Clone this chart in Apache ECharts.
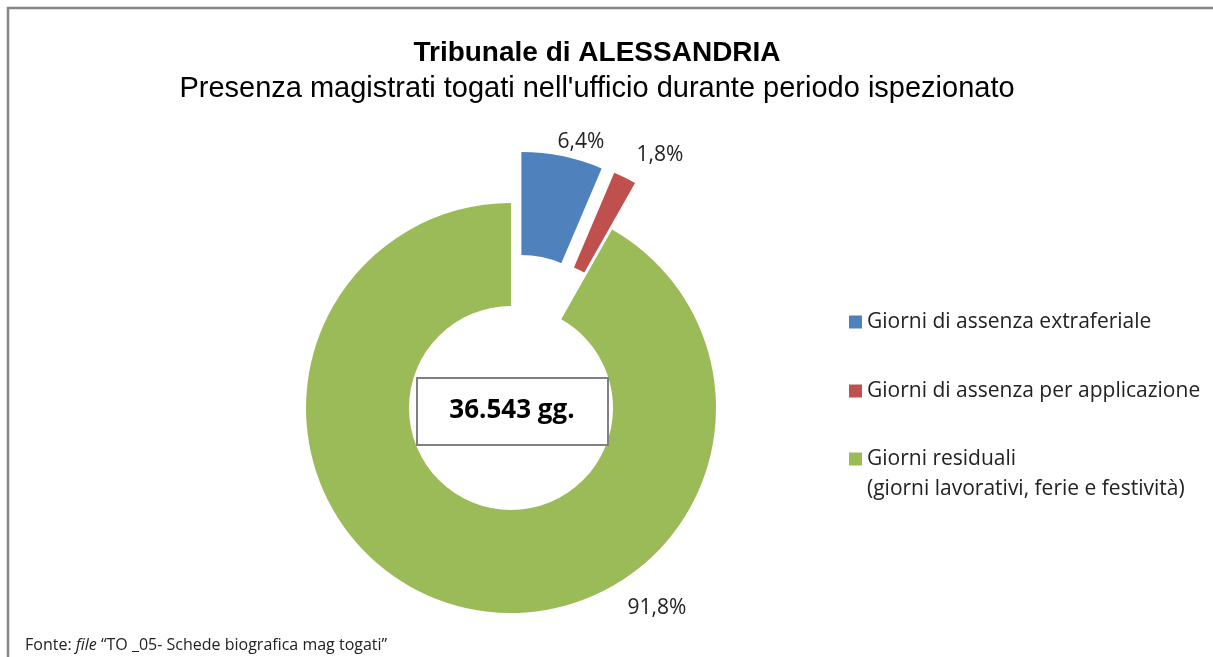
<!DOCTYPE html>
<html>
<head>
<meta charset="utf-8">
<script src="https://cdn.jsdelivr.net/npm/echarts@6/dist/echarts.min.js"></script>
<style>
  html, body { margin: 0; padding: 0; background: #fff; }
  #chart { width: 1213px; height: 657px; }
</style>
</head>
<body>
<div id="chart"></div>
<script>
// dati (giorni)
var categorie = [
  'Giorni di assenza extraferiale',
  'Giorni di assenza per applicazione',
  'Giorni residuali\n(giorni lavorativi, ferie e festività)'
];
var giorni = [2339, 658, 33546];
var esplosi = [true, true, false];
var totale = '36.543 gg.';

var colori = ['#4F81BD', '#C0504D', '#9BBB59'];
// centro del testo percentuale
var posEtichette = [[581, 142], [660, 155], [657, 608]];
var topLegenda = [307, 376, 414];
var distacco = 52;

var font = '"Open Sans", Lato, sans-serif';

// spostamento dovuto al distacco della fetta (da sottrarre all'etichetta)
const spostamento = (i) => {
  if (!esplosi[i]) return [0, 0];
  const tot = giorni.reduce((a, b) => a + b, 0);
  const prima = giorni.slice(0, i).reduce((a, b) => a + b, 0);
  const ang = 2 * Math.PI * (prima + giorni[i] / 2) / tot;
  return [distacco * Math.sin(ang), -distacco * Math.cos(ang)];
};

const getOption = () => {
  const legendaBase = (i) => ({
    orient: 'vertical',
    left: 849,
    top: topLegenda[i],
    padding: 0,
    itemWidth: 13,
    itemHeight: 13,
    icon: 'rect',
    data: [categorie[i]],
    selectedMode: false,
    // riga vuota in testa: la prima riga vera resta allineata al quadratino
    formatter: (name) => (i === 2 ? '\n' + name : name),
    textStyle: {
      fontFamily: font,
      fontSize: 21,
      color: '#222',
      lineHeight: 30
    }
  });

  return {
    color: colori,
    animation: false,
    title: [
      {
        text: 'Tribunale di ALESSANDRIA',
        left: 592,
        top: 34,
        textAlign: 'center',
        textStyle: { fontFamily: '"Liberation Sans", Arial', fontSize: 28, fontWeight: 'bold', color: '#000' }
      },
      {
        text: "Presenza magistrati togati nell'ufficio durante periodo ispezionato",
        left: 592,
        top: 69,
        textAlign: 'center',
        textStyle: { fontFamily: '"Liberation Sans", Arial', fontSize: 29, fontWeight: 'normal', color: '#000' }
      }
    ],
    legend: [legendaBase(0), legendaBase(1), legendaBase(2)],
    graphic: [
      {
        type: 'rect',
        shape: { x: 8, y: 8, width: 1260, height: 700 },
        style: { fill: 'none', stroke: '#868686', lineWidth: 2.5 },
        silent: true
      },
      {
        type: 'rect',
        shape: { x: 417, y: 378, width: 191, height: 67 },
        style: { fill: '#fff', stroke: '#808080', lineWidth: 2 },
        z: 10
      },
      {
        type: 'text',
        x: 512,
        y: 411,
        z: 11,
        style: {
          text: totale,
          align: 'center',
          verticalAlign: 'middle',
          fontFamily: font,
          fontSize: 26,
          fontWeight: 'bold',
          fill: '#000'
        }
      },
      {
        type: 'text',
        x: 25,
        y: 645,
        style: {
          text: '{n|Fonte: }{i|file}{n| “TO _05- Schede biografica mag togati”}',
          verticalAlign: 'middle',
          rich: {
            n: { fontFamily: font, fontSize: 16, fill: '#222' },
            i: { fontFamily: font, fontSize: 16, fontStyle: 'italic', fill: '#222' }
          }
        }
      }
    ],
    series: [
      {
        type: 'pie',
        center: [511, 408],
        radius: [102, 205],
        startAngle: 90,
        clockwise: true,
        selectedMode: 'multiple',
        selectedOffset: distacco,
        percentPrecision: 1,
        emphasis: { disabled: true },
        label: {
          show: true,
          position: 'outside',
          fontFamily: font,
          fontSize: 21,
          color: '#222',
          formatter: (p) => p.percent.toFixed(1).replace('.', ',') + '%'
        },
        labelLine: { show: false },
        labelLayout: (p) => {
          const r = p.labelRect;
          const s = spostamento(p.dataIndex);
          return {
            dx: posEtichette[p.dataIndex][0] - (r.x + r.width / 2) - s[0],
            dy: posEtichette[p.dataIndex][1] - (r.y + r.height / 2) - s[1]
          };
        },
        data: categorie.map((c, i) => ({
          name: c,
          value: giorni[i],
          selected: esplosi[i]
        }))
      }
    ]
  };
};

const chart = echarts.init(document.getElementById('chart'));
chart.setOption(getOption());
</script>
</body>
</html>
